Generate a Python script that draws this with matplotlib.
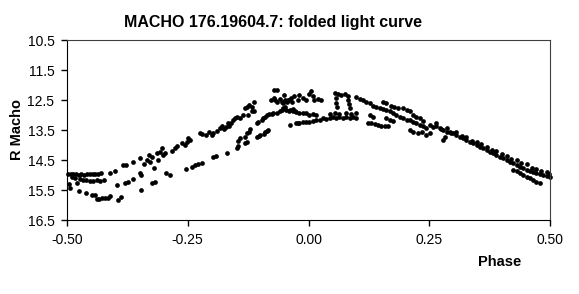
import matplotlib
matplotlib.use("Agg")
import matplotlib.pyplot as plt

plt.rcParams['font.family'] = ['Liberation Sans', 'DejaVu Sans']
plt.rcParams['axes.unicode_minus'] = False

# faint end, phase -0.5 .. -0.4
faint_phase = [-0.497, -0.492, -0.487, -0.481, -0.476, -0.470, -0.465, -0.458, -0.452, -0.447, -0.441, -0.435, -0.430,
               -0.490, -0.483, -0.473, -0.466, -0.460, -0.453, -0.446, -0.438, -0.431, -0.424,
               -0.496, -0.493, -0.479, -0.476, -0.461, -0.449, -0.443, -0.437, -0.433, -0.427, -0.421, -0.416, -0.411]
faint_mag = [14.95, 14.97, 14.98, 14.96, 14.99, 14.98, 15.00, 14.97, 14.98, 14.96, 14.95, 14.97, 14.94,
             15.05, 15.10, 15.13, 15.15, 15.18, 15.20, 15.20, 15.18, 15.20, 15.18,
             15.31, 15.44, 15.25, 15.52, 15.61, 15.66, 15.67, 15.81, 15.80, 15.76, 15.75, 15.75, 15.70]

# rising branch, phase -0.41 .. -0.02
rise_phase = [-0.411, -0.401, -0.397, -0.394, -0.389, -0.385, -0.378, -0.380, -0.373, -0.364, -0.363, -0.349, -0.349,
              -0.347, -0.347, -0.340, -0.335, -0.331, -0.328, -0.325, -0.325, -0.320, -0.318, -0.314, -0.311, -0.307,
              -0.304, -0.302, -0.297, -0.294, -0.287, -0.283, -0.276, -0.273, -0.262, -0.256, -0.252, -0.250, -0.245,
              -0.253, -0.242, -0.235, -0.228, -0.221, -0.197, -0.191, -0.169, -0.148, -0.146, -0.131, -0.128, -0.146,
              -0.141, -0.131, -0.128, -0.124, -0.121, -0.107, -0.103, -0.100, -0.093, -0.090, -0.086, -0.083,
              -0.224, -0.220, -0.212, -0.207, -0.200, -0.197, -0.189, -0.184, -0.180, -0.175, -0.171, -0.167, -0.164,
              -0.160, -0.157, -0.152, -0.147, -0.142, -0.135, -0.131, -0.128, -0.124, -0.117, -0.113, -0.126, -0.118,
              -0.112, -0.107, -0.104, -0.097, -0.094, -0.090, -0.086, -0.081, -0.076, -0.073, -0.066, -0.059, -0.054,
              -0.048, -0.078, -0.072, -0.069, -0.066, -0.059, -0.055, -0.052, -0.048, -0.045, -0.040, -0.035, -0.072,
              -0.066, -0.038, -0.033, -0.028, -0.038, -0.021]
rise_mag = [14.92, 14.85, 15.33, 15.83, 15.72, 14.67, 14.67, 15.28, 15.22, 14.58, 15.13, 14.44, 14.92,
            15.00, 15.50, 14.63, 14.50, 14.33, 14.55, 14.41, 15.28, 14.78, 15.22, 14.28, 14.50, 14.22,
            14.11, 14.33, 14.28, 14.94, 15.00, 14.19, 14.11, 14.02, 13.94, 14.00, 13.89, 13.77, 13.83,
            14.81, 14.72, 14.67, 14.63, 14.61, 14.41, 14.36, 14.28, 14.11, 14.03, 13.94, 13.89, 13.85,
            13.78, 13.72, 13.61, 13.55, 13.47, 13.72, 13.70, 13.66, 13.63, 13.58, 13.53, 13.50,
            13.61, 13.63, 13.66, 13.55, 13.66, 13.59, 13.52, 13.44, 13.38, 13.47, 13.41, 13.27, 13.36,
            13.25, 13.18, 13.10, 13.07, 13.10, 12.99, 12.77, 12.72, 12.66, 12.72, 12.55, 12.99, 12.88,
            12.85, 13.27, 13.22, 13.16, 13.10, 13.05, 13.00, 12.97, 12.95, 12.94, 12.92, 12.88, 12.82,
            12.74, 12.49, 12.44, 12.50, 12.55, 12.46, 12.55, 12.60, 12.50, 12.55, 12.50, 12.55, 12.18,
            12.18, 12.83, 12.80, 12.88, 13.33, 13.27]

# maximum, phase -0.05 .. 0.25
peak_phase = [-0.050, -0.043, -0.036, -0.029, -0.022, -0.019, -0.012, -0.005, 0.002, 0.006, 0.009, 0.012, 0.019, 0.026,
              -0.053, -0.046, -0.040, -0.033, -0.026, -0.019, -0.012, -0.005, 0.002, 0.009, 0.016,
              -0.026, -0.019, -0.012, -0.005, 0.002, 0.009, 0.016, 0.023, 0.030, 0.037, 0.044, 0.050, 0.057, 0.064,
              0.071, 0.078, 0.085, 0.092, 0.099,
              0.044, 0.054, 0.064, 0.078, 0.089, 0.099,
              0.054, 0.061, 0.068, 0.075, 0.082, 0.056, 0.057, 0.059, 0.082, 0.084, 0.086,
              0.099, 0.106, 0.113, 0.120, 0.127, 0.133, 0.140, 0.147, 0.154, 0.161, 0.168, 0.175, 0.182, 0.189,
              0.196, 0.203, 0.210, 0.216, 0.223, 0.230, 0.237, 0.244,
              0.154, 0.161, 0.171, 0.178, 0.185, 0.196, 0.203, 0.210, 0.216, 0.223, 0.230, 0.237,
              0.123, 0.130, 0.137, 0.144, 0.151, 0.158, 0.165, 0.127, 0.133, 0.161, 0.168, 0.175,
              0.210, 0.216, 0.227, 0.234, 0.244, 0.251]
peak_mag = [12.33, 12.49, 12.44, 12.38, 12.49, 12.33, 12.44, 12.49, 12.30, 12.21, 12.38, 12.49, 12.46, 12.49,
            12.77, 12.83, 12.85, 12.88, 12.90, 12.94, 12.92, 12.94, 12.99, 12.97, 12.99,
            13.27, 13.25, 13.22, 13.24, 13.22, 13.20, 13.18, 13.16, 13.11, 13.13, 13.11, 13.05, 13.10, 13.05,
            13.09, 13.05, 13.11, 13.07, 13.11,
            12.97, 12.92, 12.97, 12.92, 12.97, 12.92,
            12.27, 12.29, 12.33, 12.30, 12.38, 12.44, 12.60, 12.72, 12.49, 12.63, 12.77,
            12.40, 12.46, 12.49, 12.55, 12.60, 12.69, 12.74, 12.77, 12.80, 12.83, 12.88, 12.94, 12.99, 13.05,
            13.11, 13.16, 13.18, 13.22, 13.27, 13.33, 13.38, 13.44,
            12.55, 12.60, 12.69, 12.72, 12.77, 12.77, 12.83, 12.88, 12.99, 13.05, 13.11, 13.20,
            13.25, 13.27, 13.30, 13.33, 13.36, 13.38, 13.38, 12.99, 13.07, 13.11, 13.18, 13.20,
            13.50, 13.55, 13.61, 13.58, 13.66, 13.61]

# declining branch, phase 0.25 .. 0.5
decline_phase = [0.251, 0.258, 0.265, 0.272, 0.279, 0.286, 0.293, 0.299, 0.306, 0.313, 0.320, 0.327, 0.334, 0.341,
                 0.348, 0.355, 0.362, 0.369, 0.376, 0.382, 0.389, 0.396, 0.403, 0.410, 0.417, 0.424, 0.431, 0.438,
                 0.445, 0.452, 0.459, 0.465, 0.472, 0.479, 0.486, 0.493, 0.499,
                 0.265, 0.286, 0.306, 0.327, 0.348, 0.369, 0.389, 0.410, 0.431, 0.452, 0.472, 0.493,
                 0.275, 0.296, 0.317, 0.338, 0.358, 0.379, 0.400, 0.420, 0.440, 0.462, 0.482, 0.497,
                 0.279, 0.282, 0.424, 0.431, 0.438, 0.445, 0.452, 0.459, 0.465, 0.472, 0.479]
decline_mag = [13.33, 13.41, 13.36, 13.44, 13.50, 13.55, 13.58, 13.61, 13.66, 13.72, 13.77, 13.83, 13.89, 13.94,
               14.00, 14.05, 14.11, 14.16, 14.22, 14.28, 14.33, 14.39, 14.44, 14.50, 14.55, 14.61, 14.66, 14.72,
               14.78, 14.83, 14.87, 14.91, 14.94, 14.98, 15.00, 15.03, 15.05,
               13.28, 13.44, 13.55, 13.72, 13.89, 14.05, 14.20, 14.36, 14.50, 14.63, 14.80, 14.90,
               13.47, 13.60, 13.70, 13.85, 13.97, 14.15, 14.30, 14.47, 14.60, 14.75, 14.88, 14.95,
               13.83, 13.74, 14.83, 14.88, 14.94, 15.00, 15.06, 15.11, 15.17, 15.22, 15.28]

x_ticks = [-0.50, -0.25, 0.00, 0.25, 0.50]
y_ticks = [10.5, 11.5, 12.5, 13.5, 14.5, 15.5, 16.5]

fig = plt.figure(figsize=(5.79, 2.94), dpi=100)
ax = fig.add_axes([67 / 579, 1 - 220 / 294, 483 / 579, 180 / 294])

for ph, mg in [(faint_phase, faint_mag), (rise_phase, rise_mag),
               (peak_phase, peak_mag), (decline_phase, decline_mag)]:
    ax.plot(ph, mg, 'o', color='black', ms=3.4, mew=0, clip_on=False)

ax.set_xlim(-0.5, 0.5)
ax.set_ylim(16.5, 10.5)
ax.set_xticks(x_ticks)
ax.set_xticklabels(['%.2f' % v for v in x_ticks])
ax.set_yticks(y_ticks)
ax.set_yticklabels(['%.1f' % v for v in y_ticks])
ax.tick_params(direction='out', length=4, width=1, labelsize=10, pad=5)

for s in ['left', 'bottom']:
    ax.spines[s].set_color('black')
for s in ['top', 'right']:
    ax.spines[s].set_color('#404040')

fig.text(17 / 579, 1 - 130 / 294, 'R Macho', fontsize=10.5, fontweight='bold',
         rotation=90, ha='center', va='center')
fig.text(500 / 579, 1 - 262 / 294, 'Phase', fontsize=10.5, fontweight='bold', ha='center', va='center')
fig.text(273 / 579, 1 - 22 / 294, 'MACHO 176.19604.7: folded light curve', fontsize=11.5,
         fontweight='bold', ha='center', va='center')

fig.savefig('out.png', dpi=100)
